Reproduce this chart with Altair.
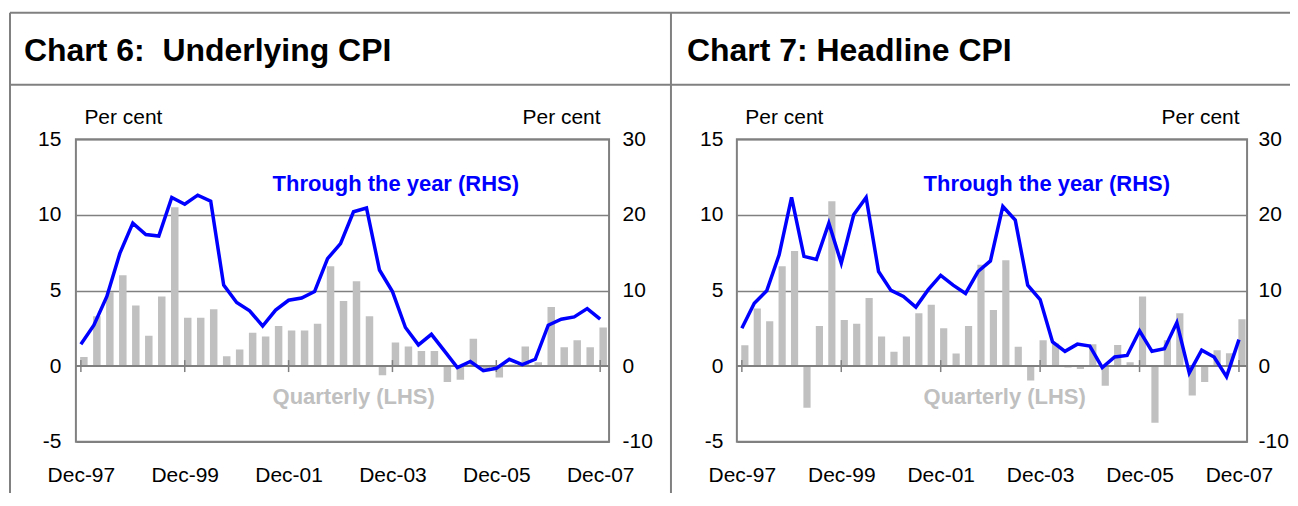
import altair as alt
import pandas as pd

# ---------------- data ----------------
quarters = ["Dec-97", "Mar-98", "Jun-98", "Sep-98", "Dec-98", "Mar-99", "Jun-99", "Sep-99",
            "Dec-99", "Mar-00", "Jun-00", "Sep-00", "Dec-00", "Mar-01", "Jun-01", "Sep-01",
            "Dec-01", "Mar-02", "Jun-02", "Sep-02", "Dec-02", "Mar-03", "Jun-03", "Sep-03",
            "Dec-03", "Mar-04", "Jun-04", "Sep-04", "Dec-04", "Mar-05", "Jun-05", "Sep-05",
            "Dec-05", "Mar-06", "Jun-06", "Sep-06", "Dec-06", "Mar-07", "Jun-07", "Sep-07",
            "Dec-07"]
tick_idx = [0, 8, 16, 24, 32, 40]
tick_labels = ["Dec-97", "Dec-99", "Dec-01", "Dec-03", "Dec-05", "Dec-07"]

# Chart 6: Underlying CPI
under_q = [0.6, 3.3, 4.9, 6.0, 4.0, 2.0, 4.6, 10.5, 3.2, 3.2, 3.75, 0.65, 1.1, 2.2, 1.95,
           2.65, 2.35, 2.35, 2.8, 6.6, 4.3, 5.6, 3.3, -0.6, 1.55, 1.3, 1.0, 1.0, -1.05, -0.9,
           1.8, -0.35, -0.75, 0.1, 1.3, 0.25, 3.9, 1.25, 1.7, 1.25, 2.55]
under_tty = [2.9, 5.4, 9.2, 14.9, 18.9, 17.4, 17.2, 22.3, 21.4, 22.6, 21.8, 10.7, 8.4, 7.3,
             5.3, 7.4, 8.7, 9.0, 9.85, 14.2, 16.2, 20.4, 20.9, 12.7, 9.85, 5.1, 2.8, 4.2, 2.0,
             -0.2, 0.6, -0.6, -0.3, 0.9, 0.2, 0.9, 5.4, 6.2, 6.5, 7.6, 6.2]

# Chart 7: Headline CPI
head_q = [1.37, 3.8, 2.96, 6.6, 7.6, -2.75, 2.65, 10.9, 3.05, 2.8, 4.5, 1.95, 0.95, 1.95,
          3.5, 4.05, 2.5, 0.83, 2.65, 6.7, 3.7, 7.0, 1.28, -0.95, 1.7, 1.5, -0.1, -0.2, 1.45,
          -1.3, 1.4, 0.25, 4.6, -3.75, 1.7, 3.5, -1.95, -1.05, 1.05, 0.85, 3.1]
head_tty = [5.0, 8.3, 9.95, 14.7, 22.3, 14.5, 14.1, 18.9, 13.6, 20.0, 22.3, 12.5, 10.0, 9.2,
            7.8, 10.1, 12.0, 10.7, 9.6, 12.5, 13.9, 21.1, 19.3, 10.7, 8.8, 3.2, 1.95, 2.9,
            2.65, -0.2, 1.2, 1.4, 4.65, 1.95, 2.3, 5.75, -0.9, 2.1, 1.2, -1.4, 3.5]

titles = ["Chart 6:\u00a0 Underlying CPI", "Chart 7: Headline CPI"]
series_names = ["Through the year (RHS)", "Quarterly (LHS)"]
unit_label = "Per cent"

# ---------------- styling ----------------
FONT = "Liberation Sans"
GREY = "#808080"
BAR = "#c0c0c0"
BLUE = "#0000ff"
H = 303
ZERO_PX = H * 15 / 20
NUM_LABEL = "'' + datum.value"   # plain hyphen minus, as in the original


def panel(title, q, tty, width, xmax, bar_w, lpad, rpad, rtitle_x, ann_x, title_x, right_end):
    df = pd.DataFrame({"i": list(range(len(quarters))), "quarter": quarters, "q": q, "tty": tty})
    one = pd.DataFrame({"t": [title]})
    ticks_df = pd.DataFrame({"i": tick_idx})

    label_expr = "[" + ",".join("'%s'" % s for s in tick_labels) + "][round(datum.value / 8)]"
    x_enc = alt.X("i:Q", scale=alt.Scale(domain=[0, xmax], nice=False, zero=False),
                  axis=alt.Axis(values=tick_idx, labelExpr=label_expr, title=None, grid=False,
                                domain=False, ticks=False, tickSize=0, labelPadding=40,
                                labelBaseline="alphabetic", labelFlush=False,
                                labelOverlap=False, labelFontSize=21, labelColor="black"))

    bars = alt.Chart(df).mark_bar(color=BAR, width=bar_w, xOffset=3, clip=True).encode(
        x=x_enc,
        y=alt.Y("q:Q", scale=alt.Scale(domain=[-5, 15], nice=False, zero=False),
                axis=alt.Axis(values=[-5, 0, 5, 10, 15], labelExpr=NUM_LABEL,
                              title=unit_label, titleAngle=0,
                              titleAlign="left", titleBaseline="alphabetic", titleX=8,
                              titleY=-15.5, titleFontWeight="normal", titleFontSize=21,
                              grid=True, gridColor=GREY, gridWidth=1.5, domain=False,
                              ticks=False, tickSize=0, labelPadding=lpad, labelFontSize=21,
                              labelColor="black")),
        y2=alt.datum(0),
    )
    zero_line = alt.Chart(one).mark_rule(color=GREY, strokeWidth=2).encode(
        y=alt.datum(0), x=alt.value(0), x2=alt.value(width))
    tick_marks = alt.Chart(ticks_df).mark_rule(color=GREY, strokeWidth=1.5).encode(
        x=alt.X("i:Q"), y=alt.value(ZERO_PX - 6), y2=alt.value(ZERO_PX + 6))

    left = alt.layer(bars, zero_line, tick_marks)

    line = alt.Chart(df).mark_line(color=BLUE, strokeWidth=3.5).encode(
        x=x_enc,
        y=alt.Y("tty:Q", scale=alt.Scale(domain=[-10, 30], nice=False, zero=False),
                axis=alt.Axis(orient="right", values=[-10, 0, 10, 20, 30], labelExpr=NUM_LABEL,
                              title=unit_label,
                              titleAngle=0, titleAlign="right", titleBaseline="alphabetic",
                              titleX=rtitle_x, titleY=-15.5, titleFontWeight="normal",
                              titleFontSize=21, grid=False, domain=False, ticks=False,
                              tickSize=0, labelPadding=rpad, labelAlign="left",
                              labelFontSize=21, labelColor="black")),
    )

    # annotations
    ann_df = pd.DataFrame({"t": series_names})
    tty_lab = alt.Chart(ann_df.iloc[[0]]).mark_text(
        font=FONT, fontSize=22, fontWeight="bold", color=BLUE, align="left",
        baseline="alphabetic").encode(text="t:N", x=alt.value(ann_x), y=alt.value(51.5))
    q_lab = alt.Chart(ann_df.iloc[[1]]).mark_text(
        font=FONT, fontSize=22, fontWeight="bold", color=BAR, align="left",
        baseline="alphabetic").encode(text="t:N", x=alt.value(ann_x), y=alt.value(265))
    title_txt = alt.Chart(one).mark_text(
        font=FONT, fontSize=32, fontWeight="bold", color="black", align="left",
        baseline="alphabetic").encode(text="t:N", x=alt.value(title_x), y=alt.value(-78.5))

    # panel frame
    top = -126.5
    bottom = 365.5
    frame_top = alt.Chart(one).mark_rule(color=GREY, strokeWidth=2).encode(
        x=alt.value(-66), x2=alt.value(right_end), y=alt.value(top))
    frame_sep = alt.Chart(one).mark_rule(color=GREY, strokeWidth=2).encode(
        x=alt.value(-66), x2=alt.value(right_end), y=alt.value(-54.5))
    frame_left = alt.Chart(one).mark_rule(color=GREY, strokeWidth=2).encode(
        x=alt.value(-66), y=alt.value(top), y2=alt.value(bottom))

    deco = alt.layer(tty_lab, q_lab, title_txt, frame_top, frame_sep, frame_left)

    return alt.layer(left, line, deco).resolve_scale(y="independent").properties(
        width=width, height=H)


p6 = panel(titles[0], under_q, under_tty, width=534, xmax=40.3, bar_w=7.5, lpad=15, rpad=13,
           rtitle_x=-9, ann_x=197, title_x=-52, right_end=596)
p7 = panel(titles[1], head_q, head_tty, width=511, xmax=40.25, bar_w=7.2, lpad=14, rpad=11,
           rtitle_x=-8, ann_x=187, title_x=-50, right_end=570)

chart = alt.hconcat(p6, p7, spacing=128, bounds="flush").properties(
    padding={"left": 0, "top": 2, "right": -18, "bottom": -14}
).configure_view(stroke=GREY, strokeWidth=2).configure_axis(
    labelFont=FONT, titleFont=FONT, labelColor="black", titleColor="black"
).configure_text(font=FONT)

chart.save("out.html", embed_options={"renderer": "svg", "actions": False})
